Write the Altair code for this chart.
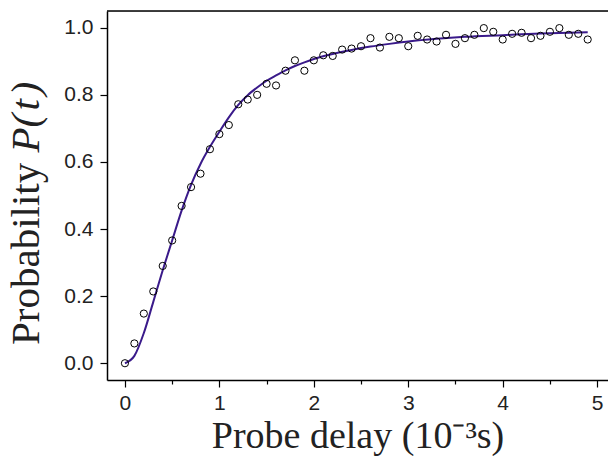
import altair as alt
import pandas as pd

# Measured data points (probe delay in 10^-3 s, probability)
delay = [0.0, 0.1, 0.2, 0.3, 0.4, 0.5, 0.6, 0.7, 0.8, 0.9,
         1.0, 1.1, 1.2, 1.3, 1.4, 1.5, 1.6, 1.7, 1.8, 1.9,
         2.0, 2.1, 2.2, 2.3, 2.4, 2.5, 2.6, 2.7, 2.8, 2.9,
         3.0, 3.1, 3.2, 3.3, 3.4, 3.5, 3.6, 3.7, 3.8, 3.9,
         4.0, 4.1, 4.2, 4.3, 4.4, 4.5, 4.6, 4.7, 4.8, 4.9]
prob = [0.000, 0.059, 0.148, 0.214, 0.290, 0.366, 0.469, 0.525, 0.565, 0.638,
        0.683, 0.710, 0.772, 0.786, 0.800, 0.833, 0.828, 0.872, 0.903, 0.872,
        0.903, 0.918, 0.916, 0.935, 0.938, 0.945, 0.969, 0.941, 0.973, 0.969,
        0.945, 0.976, 0.965, 0.959, 0.979, 0.952, 0.969, 0.979, 0.999, 0.988,
        0.965, 0.982, 0.985, 0.969, 0.976, 0.988, 0.999, 0.979, 0.982, 0.965]

# Fitted curve
fit_t = [0.0, 0.1, 0.2, 0.3, 0.4, 0.5, 0.6, 0.7, 0.8, 0.9, 1.0, 1.1, 1.2, 1.3,
         1.4, 1.5, 1.6, 1.7, 1.8, 1.9, 2.0, 2.2, 2.4, 2.6, 2.8, 3.0, 3.3, 3.6,
         4.0, 4.4, 4.9]
fit_p = [0.000, 0.022, 0.090, 0.183, 0.277, 0.366, 0.455, 0.532, 0.594, 0.645,
         0.690, 0.733, 0.770, 0.799, 0.822, 0.842, 0.858, 0.873, 0.886, 0.897,
         0.907, 0.922, 0.934, 0.944, 0.952, 0.959, 0.967, 0.973, 0.978, 0.983,
         0.987]

x_ticks = [0, 0.5, 1, 1.5, 2, 2.5, 3, 3.5, 4, 4.5, 5]
y_ticks = [0.0, 0.1, 0.2, 0.3, 0.4, 0.5, 0.6, 0.7, 0.8, 0.9, 1.0]

y_title_main = ["Probability"]
y_title_var = ["P(\u200at\u200a)"]

W, H = 501, 369
LINE = "#3a1a8a"
SERIF = "Liberation Serif"
SANS = "Liberation Sans"
YT_SIZE = 41
YT_START = 334                       # bottom end of the rotated title
YT_SPLIT = YT_START - 4.695 * YT_SIZE  # after "Probability " (Times metrics)

pts = pd.DataFrame({"t": delay, "p": prob})
fit = pd.DataFrame({"t": fit_t, "p": fit_p})

xscale = alt.Scale(domain=[-0.19, 5.115], nice=False, zero=False)
yscale = alt.Scale(domain=[-0.05, 1.05], nice=False, zero=False)

xaxis = alt.Axis(
    values=x_ticks,
    labelExpr="datum.value % 1 === 0 ? format(datum.value, 'd') : ''",
    tickSize={"condition": {"test": "datum.value % 1 === 0", "value": 7}, "value": 4},
    title="Probe delay (10\u207b\u00b3s)",
    titleFont=SERIF, titleFontSize=38, titleFontWeight="normal",
    titleColor="#222222", titleBaseline="alphabetic", titleY=67,
    labelFont=SANS, labelFontSize=21, labelColor="#222222",
    labelPadding=5, domainColor="black", domainWidth=1.5,
    tickColor="black", tickWidth=1.2, grid=False, labelFlush=False,
)
yaxis = alt.Axis(
    values=y_ticks,
    labelExpr="round(datum.value * 10) % 2 === 0 ? format(datum.value, '.1f') : ''",
    tickSize=7, title=None,
    labelFont=SANS, labelFontSize=21, labelColor="#222222",
    labelPadding=7, domainColor="black", domainWidth=1.5,
    tickColor="black", tickWidth=1.2, grid=False, labelFlush=False,
)

line = alt.Chart(fit).mark_line(color=LINE, strokeWidth=2, interpolate="monotone").encode(
    x=alt.X("t:Q", scale=xscale, axis=xaxis),
    y=alt.Y("p:Q", scale=yscale, axis=yaxis),
)
points = alt.Chart(pts).mark_point(
    shape="circle", filled=False, color="black", size=52, strokeWidth=1, opacity=1
).encode(x="t:Q", y="p:Q")

top = alt.Chart(pd.DataFrame({"a": [0]})).mark_rule(color="black", strokeWidth=1.5).encode(
    x=alt.value(0), x2=alt.value(W), y=alt.value(0)
)

ytitle1 = alt.Chart(pd.DataFrame({"s": y_title_main})).mark_text(
    font=SERIF, fontSize=YT_SIZE, angle=270, align="left",
    baseline="alphabetic", color="#222222"
).encode(text="s:N", x=alt.value(-68), y=alt.value(YT_START))
ytitle2 = alt.Chart(pd.DataFrame({"s": y_title_var})).mark_text(
    font=SERIF, fontSize=YT_SIZE, angle=270, align="left",
    baseline="alphabetic", fontStyle="italic", color="#222222"
).encode(text="s:N", x=alt.value(-68), y=alt.value(YT_SPLIT))

chart = alt.layer(line, points, top, ytitle1, ytitle2).properties(
    width=W, height=H,
    autosize=alt.AutoSizeParams(type="none"),
    padding={"left": 99, "top": 3, "right": 0, "bottom": 76},
).configure_view(stroke=None).configure(background="white")

chart.save("out.html", embed_options={"renderer": "svg", "actions": False})
